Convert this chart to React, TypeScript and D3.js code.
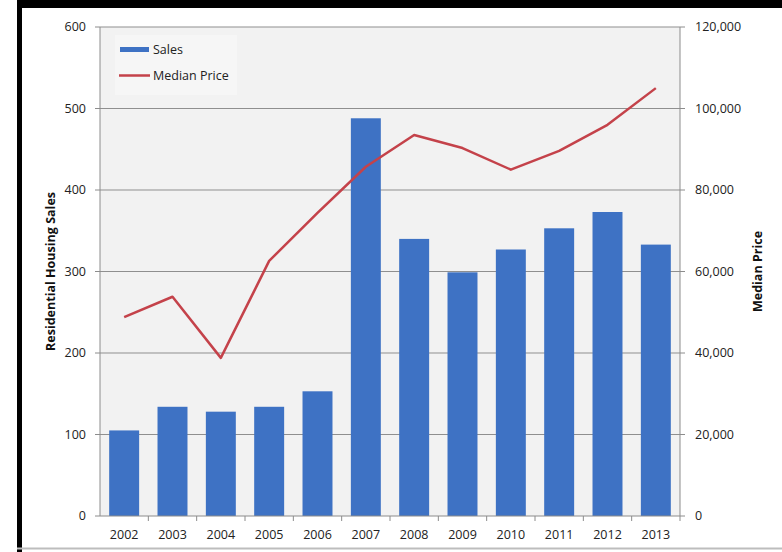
import * as d3 from "d3";

const years = ["2002", "2003", "2004", "2005", "2006", "2007", "2008", "2009", "2010", "2011", "2012", "2013"];
const sales = [105, 134, 128, 134, 153, 488, 340, 299, 327, 353, 373, 333];
const medianPrice = [48800, 53800, 38800, 62600, 74400, 85700, 93500, 90300, 85000, 89600, 96000, 105000];
const salesTicks = [0, 100, 200, 300, 400, 500, 600];
const priceTicks = [0, 20000, 40000, 60000, 80000, 100000, 120000];

const W = 782;
const H = 552;
const plot = { left: 100, right: 680, top: 27, bottom: 516 };
const font = "'Open Sans', 'Liberation Sans', sans-serif";
const barColor = "#3e72c4";
const lineColor = "#c4424a";

export default function App() {
  const x = d3.scaleBand().domain(years).range([plot.left, plot.right]).paddingInner(0.38).paddingOuter(0.19);
  const yL = d3.scaleLinear().domain([0, 600]).range([plot.bottom, plot.top]);
  const yR = d3.scaleLinear().domain([0, 120000]).range([plot.bottom, plot.top]);
  const fmt = d3.format(",");
  const line = d3
    .line<number>()
    .x((_, i) => (x(years[i]) || 0) + x.bandwidth() / 2)
    .y((d) => yR(d));
  const step = x.step();

  return (
    <svg width={W} height={H} style={{ position: "absolute", left: 0, top: 0 }} fontFamily={font}>
      <rect x={0} y={0} width={W} height={H} fill="#fff" />
      {/* frame */}
      <rect x={17} y={0} width={W - 17} height={8} fill="#000" />
      <rect x={17} y={0} width={5} height={H} fill="#000" />
      <line x1={17} x2={W} y1={548.5} y2={548.5} stroke="#bdbdbd" strokeWidth={2} />

      <rect x={plot.left} y={plot.top} width={plot.right - plot.left} height={plot.bottom - plot.top} fill="#f2f2f2" />

      {/* gridlines */}
      {salesTicks.slice(1).map((t) => (
        <line key={t} x1={plot.left} x2={plot.right} y1={yL(t)} y2={yL(t)} stroke="#8f8f8f" strokeWidth={1} />
      ))}

      {/* bars */}
      {sales.map((v, i) => (
        <rect key={years[i]} x={x(years[i])} y={yL(v)} width={x.bandwidth()} height={yL(0) - yL(v)} fill={barColor} />
      ))}

      {/* axes lines */}
      <line x1={plot.left} x2={plot.left} y1={plot.top} y2={plot.bottom} stroke="#8c8c8c" />
      <line x1={plot.right} x2={plot.right} y1={plot.top} y2={plot.bottom} stroke="#8c8c8c" />
      <line x1={plot.left} x2={plot.right} y1={plot.bottom} y2={plot.bottom} stroke="#8c8c8c" />

      {/* left ticks */}
      {salesTicks.map((t) => (
        <g key={t}>
          <line x1={plot.left - 5} x2={plot.left} y1={yL(t)} y2={yL(t)} stroke="#8c8c8c" />
          <text x={plot.left - 14} y={yL(t)} dy="0.35em" textAnchor="end" fontSize={12.5} fill="#222">
            {t}
          </text>
        </g>
      ))}

      {/* right ticks */}
      {priceTicks.map((t) => (
        <g key={t}>
          <line x1={plot.right} x2={plot.right + 5} y1={yR(t)} y2={yR(t)} stroke="#8c8c8c" />
          <text x={plot.right + 15} y={yR(t)} dy="0.35em" textAnchor="start" fontSize={12.5} fill="#222">
            {fmt(t)}
          </text>
        </g>
      ))}

      {/* bottom ticks */}
      {years.map((yr, i) => (
        <g key={yr}>
          <line
            x1={plot.left + step * (i + 1)}
            x2={plot.left + step * (i + 1)}
            y1={plot.bottom}
            y2={plot.bottom + 5}
            stroke="#8c8c8c"
          />
          <text x={(x(yr) || 0) + x.bandwidth() / 2} y={plot.bottom + 19} dy="0.35em" textAnchor="middle" fontSize={12.5} fill="#222">
            {yr}
          </text>
        </g>
      ))}

      {/* price line */}
      <path d={line(medianPrice) || ""} fill="none" stroke={lineColor} strokeWidth={2.5} strokeLinejoin="round" />

      {/* axis titles */}
      <text
        transform={`translate(55,${(plot.top + plot.bottom) / 2}) rotate(-90)`}
        textAnchor="middle"
        fontSize={12.5}
        fontWeight="bold"
        fill="#111"
      >
        Residential Housing Sales
      </text>
      <text
        transform={`translate(762,${(plot.top + plot.bottom) / 2}) rotate(-90)`}
        textAnchor="middle"
        fontSize={12.5}
        fontWeight="bold"
        fill="#111"
      >
        Median Price
      </text>

      {/* legend */}
      <rect x={115} y={35} width={122} height={60} fill="#f6f6f6" />
      <rect x={120} y={47} width={29} height={5} fill={barColor} />
      <text x={153} y={49.5} dy="0.35em" fontSize={12.5} fill="#222">
        Sales
      </text>
      <line x1={119} x2={150} y1={75.5} y2={75.5} stroke={lineColor} strokeWidth={2.5} />
      <text x={153} y={75.5} dy="0.35em" fontSize={12.5} fill="#222">
        Median Price
      </text>
    </svg>
  );
}
